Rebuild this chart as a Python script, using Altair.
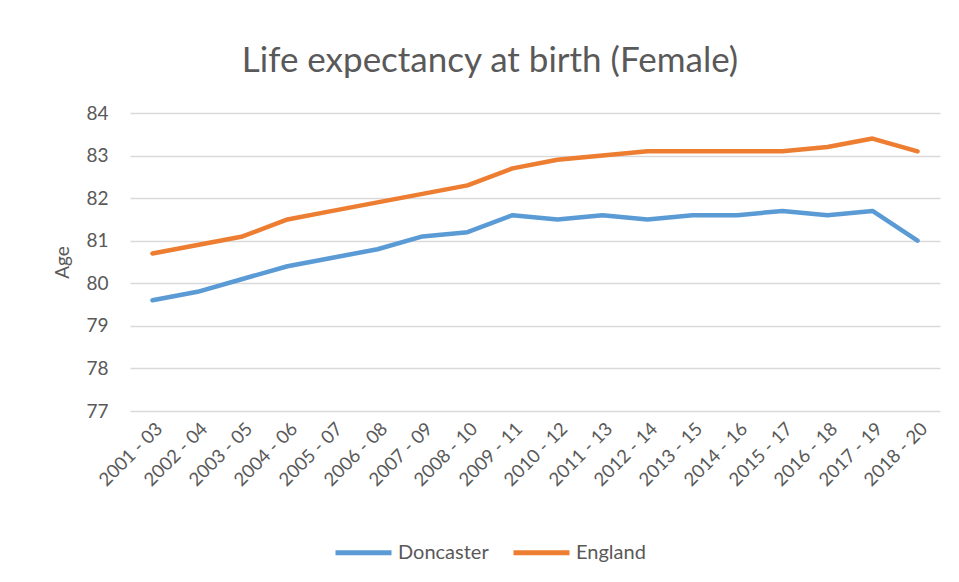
import altair as alt
import pandas as pd

periods = ["2001 - 03", "2002 - 04", "2003 - 05", "2004 - 06", "2005 - 07", "2006 - 08",
           "2007 - 09", "2008 - 10", "2009 - 11", "2010 - 12", "2011 - 13", "2012 - 14",
           "2013 - 15", "2014 - 16", "2015 - 17", "2016 - 18", "2017 - 19", "2018 - 20"]
doncaster = [79.6, 79.8, 80.1, 80.4, 80.6, 80.8, 81.1, 81.2, 81.6, 81.5, 81.6, 81.5,
             81.6, 81.6, 81.7, 81.6, 81.7, 81.0]
england = [80.7, 80.9, 81.1, 81.5, 81.7, 81.9, 82.1, 82.3, 82.7, 82.9, 83.0, 83.1,
           83.1, 83.1, 83.1, 83.2, 83.4, 83.1]
series_names = ["Doncaster", "England"]
series_colors = ["#5B9BD5", "#ED7D31"]
y_ticks = [77, 78, 79, 80, 81, 82, 83, 84]

rows = []
for name, vals in zip(series_names, [doncaster, england]):
    for p, v in zip(periods, vals):
        rows.append({"Period": p, "Series": name, "Age": v})
df = pd.DataFrame(rows)

FONT = "Lato"
TXT = "#595959"

chart = alt.Chart(df).mark_line(strokeWidth=4.5, strokeCap="round", strokeJoin="round").encode(
    x=alt.X("Period:N", sort=periods, scale=alt.Scale(type="point", padding=0.5),
            axis=alt.Axis(title=None, labelAngle=-45, labelFontSize=18.5, labelColor=TXT,
                          labelFont=FONT, ticks=False, domain=False, grid=False,
                          labelPadding=8, labelAlign="right", labelBaseline="top")),
    y=alt.Y("Age:Q", scale=alt.Scale(domain=[77, 84], nice=False, zero=False),
            axis=alt.Axis(title="Age", values=y_ticks, titleFontSize=19, titleColor=TXT,
                          titleFont=FONT, titleFontWeight="normal", titlePadding=13,
                          labelFontSize=19, labelColor=TXT, labelFont=FONT,
                          labelPadding=22, ticks=False, domain=False,
                          grid=True, gridColor="#D9D9D9", gridWidth=1.5)),
    color=alt.Color("Series:N", sort=series_names,
                    scale=alt.Scale(domain=series_names, range=series_colors),
                    legend=alt.Legend(title=None, orient="none", direction="horizontal",
                                      legendX=203, legendY=409,
                                      symbolType="stroke", symbolSize=3136,
                                      symbolStrokeWidth=5, labelFontSize=20,
                                      labelColor=TXT, labelFont=FONT, columnPadding=14,
                                      labelOffset=4)),
).properties(
    width=810, height=298,
    title=alt.TitleParams("Life expectancy at birth (Female)", fontSize=35, font=FONT,
                          color=TXT, fontWeight="normal", offset=25, dx=-45),
    autosize=alt.AutoSizeParams(type="none"),
    padding={"left": 122, "top": 105, "right": 10, "bottom": 160},
).configure_view(stroke=None)

chart.save("out.html", embed_options={"renderer": "svg", "actions": False})
